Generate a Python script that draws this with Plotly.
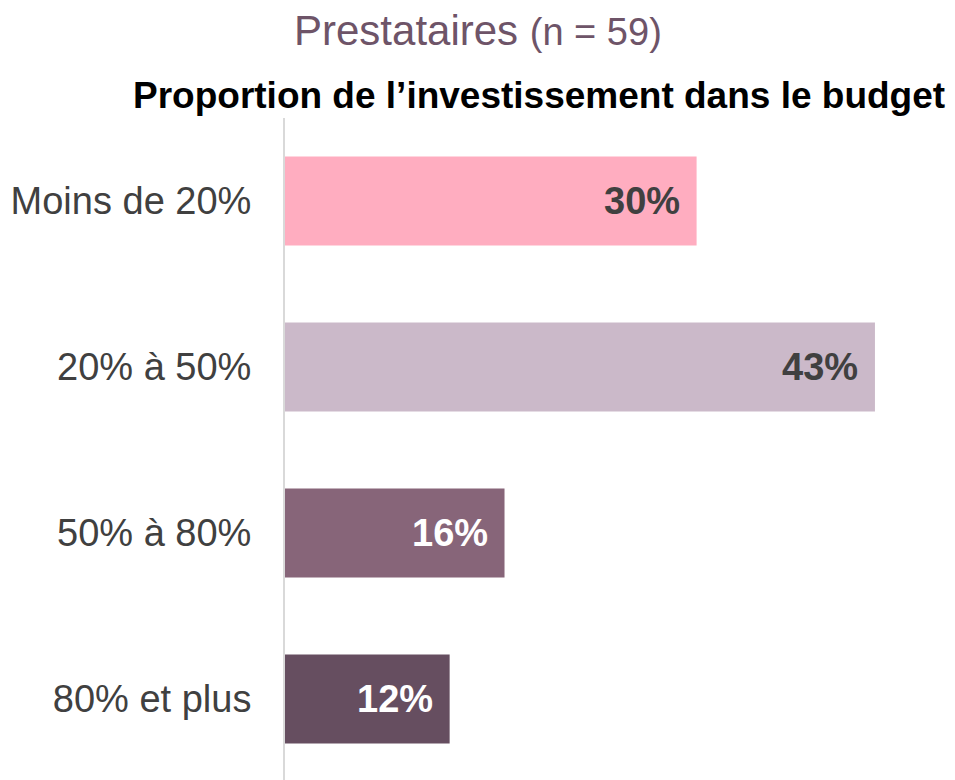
import plotly.graph_objects as go

categories = ["Moins de 20%", "20% à 50%", "50% à 80%", "80% et plus"]
values = [30, 43, 16, 12]
bar_colors = ["#FFADC0", "#CBB9C9", "#876579", "#664E60"]
label_colors = ["#404040", "#404040", "#FFFFFF", "#FFFFFF"]
labels = [f"{v}%" for v in values]

FONT = "Liberation Sans, Arial, sans-serif"

fig = go.Figure()
fig.add_trace(go.Bar(
    x=values, y=categories, orientation="h",
    marker=dict(color=bar_colors, line=dict(width=0)),
    hoverinfo="skip",
))

for c, v, t, col in zip(categories, values, labels, label_colors):
    fig.add_annotation(
        x=v, y=c, xref="x", yref="y", text=f"<b>{t}</b>", showarrow=False,
        xanchor="right", yanchor="middle", xshift=-15,
        font=dict(family=FONT, size=38, color=col),
    )

fig.add_annotation(
    x=478, y=30, xref="paper", yref="paper", showarrow=False,
    text='<span style="font-size:42px">Prestataires</span> <span style="font-size:38px">(n = 59)</span>',
    font=dict(family=FONT, size=42, color="#6E5468"),
    xanchor="center", yanchor="middle",
)
fig.add_annotation(
    x=539, y=96, xref="paper", yref="paper", showarrow=False,
    text="<b>Proportion de l’investissement dans le budget</b>",
    font=dict(family=FONT, size=37, color="#000000"),
    xanchor="center", yanchor="middle",
)

W, H = 955, 780
ml, mr, mt, mb = 285, 0, 118, 0
pw, ph = W - ml - mr, H - mt - mb
for a in fig.layout.annotations:
    if a.xref == "paper":
        a.x = (a.x - ml) / pw
        a.y = 1 - (a.y - mt) / ph

fig.update_layout(
    width=W, height=H,
    margin=dict(l=ml, r=mr, t=mt, b=mb, autoexpand=False),
    paper_bgcolor="white", plot_bgcolor="white",
    bargap=0.464,
    showlegend=False,
    font=dict(family=FONT, size=38, color="#404040"),
)
fig.update_xaxes(range=[0, 670 / 13.72], visible=False, showgrid=False, zeroline=False)
fig.update_yaxes(
    range=[3.488, -0.5], showgrid=False, zeroline=False,
    showline=True, linecolor="#D9D9D9", linewidth=2,
    ticks="", ticklabelstandoff=24,
    tickfont=dict(family=FONT, size=38, color="#404040"),
)

fig.write_html(
    "out.html",
    config={"displayModeBar": False},
    post_script="document.body.style.margin='0';document.body.style.overflow='hidden';",
)
